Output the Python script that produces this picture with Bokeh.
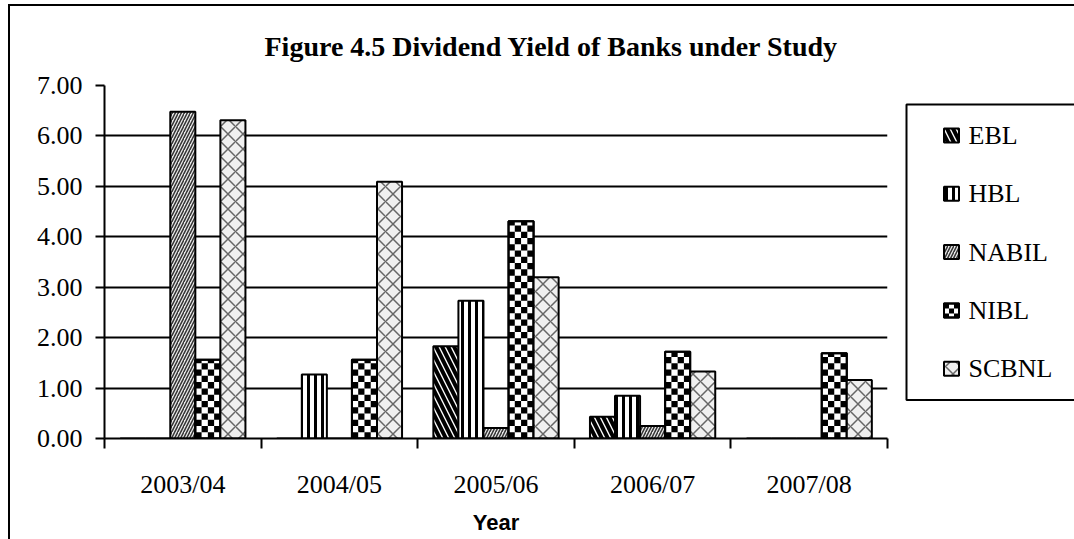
from bokeh.plotting import figure
from bokeh.layouts import row
from bokeh.models import Range1d, FixedTicker, NumeralTickFormatter, Grid
from bokeh.core.properties import value
from bokeh.embed import file_html
from bokeh.resources import INLINE

# ---- data ----
years = ["2003/04", "2004/05", "2005/06", "2006/07", "2007/08"]
series = ["EBL", "HBL", "NABIL", "NIBL", "SCBNL"]
ebl = [0, 0, 1.83, 0.43, 0]
hbl = [0, 1.27, 2.73, 0.85, 0]
nabil = [6.48, 0, 0.21, 0.25, 0]
nibl = [1.56, 1.56, 4.31, 1.72, 1.69]
scbnl = [6.31, 5.09, 3.20, 1.33, 1.16]
y_ticks = [0, 1, 2, 3, 4, 5, 6, 7]
title_text = "Figure 4.5 Dividend Yield of Banks under Study"
x_title = "Year"

values = [ebl, hbl, nabil, nibl, scbnl]
CHECKER = "NIBL"

styles = [
    dict(fill_color="white", hatch_pattern="\\", hatch_color="black", hatch_scale=12, hatch_weight=4),
    dict(fill_color="white", hatch_pattern="|", hatch_color="black", hatch_scale=7, hatch_weight=3),
    dict(fill_color="#e8e8e8", hatch_pattern="/", hatch_color="#333333", hatch_scale=6, hatch_weight=1.5),
    dict(fill_color="white"),
    dict(fill_color="#f0f0f0", hatch_pattern="x", hatch_color="#666666", hatch_scale=15, hatch_weight=1.5),
]


def checker_cells(x0, x1, y0, y1, cw, ch):
    """black cells of a checkerboard filling the box x0..x1, y0..y1"""
    L, R, B, T = [], [], [], []
    r = 0
    while y0 + r * ch < y1 - 1e-9:
        c = 0
        while x0 + c * cw < x1 - 1e-9:
            if (r + c) % 2 == 0:
                L.append(x0 + c * cw)
                R.append(min(x0 + (c + 1) * cw, x1))
                B.append(y0 + r * ch)
                T.append(min(y0 + (r + 1) * ch, y1))
            c += 1
        r += 1
    return L, R, B, T


n = len(years)
centers = list(range(n))
bounds = [c - 0.5 for c in centers] + [centers[-1] + 0.5]
bw = 0.16

FW, FH = 783, 353
TOP, BOTTOM = 79, 101
p = figure(frame_width=FW, frame_height=FH,
           min_border_left=94, min_border_right=13, min_border_top=TOP, min_border_bottom=BOTTOM,
           x_range=Range1d(bounds[0], bounds[-1]), y_range=Range1d(y_ticks[0], y_ticks[-1]),
           output_backend="svg", toolbar_location=None)
p.outline_line_color = None
p.background_fill_color = "white"
p.border_fill_color = "white"

px_x = FW / (bounds[-1] - bounds[0])
px_y = FH / (y_ticks[-1] - y_ticks[0])

for j, (name, vals, st) in enumerate(zip(series, values, styles)):
    xs = [c + (j - 2) * bw for c in centers]
    p.vbar(x=xs, top=vals, bottom=0, width=bw, line_color="black", line_width=2, **st)
    if name == CHECKER:
        cw = bw / 4
        ch = cw * px_x / px_y
        L, R, B, T = [], [], [], []
        for x, v in zip(xs, vals):
            l, r_, b, t = checker_cells(x - bw / 2, x + bw / 2, 0, v, cw, ch)
            L += l; R += r_; B += b; T += t
        p.quad(left=L, right=R, bottom=B, top=T, fill_color="black", line_color=None)
        p.vbar(x=xs, top=vals, bottom=0, width=bw, fill_color=None, line_color="black", line_width=2)

# axes
xa = p.xaxis[0]
xa.ticker = FixedTicker(ticks=centers, minor_ticks=bounds)
xa.major_label_overrides = {c: y for c, y in zip(centers, years)}
xa.major_tick_line_color = None
xa.major_tick_out = 0
xa.major_tick_in = 0
xa.minor_tick_line_color = "black"
xa.minor_tick_line_width = 2
xa.minor_tick_out = 10
xa.minor_tick_in = 0
xa.axis_line_width = 2
xa.axis_line_color = "black"
xa.major_label_text_font = "Liberation Serif"
xa.major_label_text_font_size = "26px"
xa.major_label_text_color = "black"
xa.major_label_standoff = 21
xa.axis_label = x_title
xa.axis_label_text_font = "Liberation Sans"
xa.axis_label_text_font_style = "bold"
xa.axis_label_text_font_size = "22px"
xa.axis_label_text_color = "black"
xa.axis_label_standoff = 8

ya = p.yaxis[0]
ya.ticker = FixedTicker(ticks=y_ticks)
ya.formatter = NumeralTickFormatter(format="0.00")
ya.major_tick_out = 9
ya.major_tick_in = 0
ya.major_tick_line_width = 2
ya.major_tick_line_color = "black"
ya.minor_tick_line_color = None
ya.axis_line_width = 2
ya.axis_line_color = "black"
ya.major_label_text_font = "Liberation Serif"
ya.major_label_text_font_size = "26px"
ya.major_label_text_color = "black"
ya.major_label_standoff = 13

p.xgrid.visible = False
p.ygrid.ticker = FixedTicker(ticks=y_ticks[1:-1])
p.ygrid.grid_line_color = "black"
p.ygrid.grid_line_width = 2
top_grid = Grid(dimension=1, ticker=FixedTicker(ticks=[y_ticks[-1]]),
                grid_line_color="#b4b4b4", grid_line_width=3)
p.add_layout(top_grid)

# title
p.title.text = title_text
p.title.text_font = "Liberation Serif"
p.title.text_font_size = "28px"
p.title.text_font_style = "bold"
p.title.text_color = "black"
p.title.align = "left"
p.title.vertical_align = "top"
p.title.offset = 160
p.title.standoff = 43

# ---- legend panel: same frame height as the chart, box drawn inside ----
LW = 177
lg = figure(frame_width=LW, frame_height=FH,
            min_border_left=0, min_border_right=0, min_border_top=TOP, min_border_bottom=BOTTOM,
            x_range=Range1d(0, LW), y_range=Range1d(FH, 0),
            x_axis_location=None, y_axis_location=None,
            output_backend="svg", toolbar_location=None)
lg.grid.visible = False
lg.outline_line_color = None
lg.background_fill_color = "white"
lg.border_fill_color = "white"

box_l, box_r, box_t, box_b = 6, 200, 19, 314.5
lg.quad(left=[box_l], right=[box_r], top=[box_t], bottom=[box_b],
        fill_color="white", line_color="black", line_width=2)

first, pitch = 50, 58.3
sw_x, sw_w, sw_h, txt_x = 51, 15, 14, 68
ys = [first + i * pitch for i in range(len(series))]
for name, yc, st in zip(series, ys, styles):
    lg.rect(x=[sw_x], y=[yc], width=sw_w, height=sw_h, line_color="black", line_width=2, **st)
    if name == CHECKER:
        l, r_, b, t = checker_cells(sw_x - sw_w / 2, sw_x + sw_w / 2, yc - sw_h / 2, yc + sw_h / 2, 5, 5)
        lg.quad(left=l, right=r_, bottom=b, top=t, fill_color="black", line_color=None)
        lg.rect(x=[sw_x], y=[yc], width=sw_w, height=sw_h, fill_color=None, line_color="black", line_width=2)
lg.text(x=[txt_x] * len(series), y=ys, text=series, text_font=value("Liberation Serif"),
        text_font_size="26px", text_baseline="middle", text_align="left", text_color="black")

layout = row(p, lg, margin=(4, 0, 0, 8),
             styles={"border-left": "2px solid black", "border-top": "2px solid black"})

html = file_html(layout, INLINE)
html = html.replace("</head>", "<style>html, body {overflow: hidden; margin: 0;}</style></head>", 1)
open("out.html", "w").write(html)
